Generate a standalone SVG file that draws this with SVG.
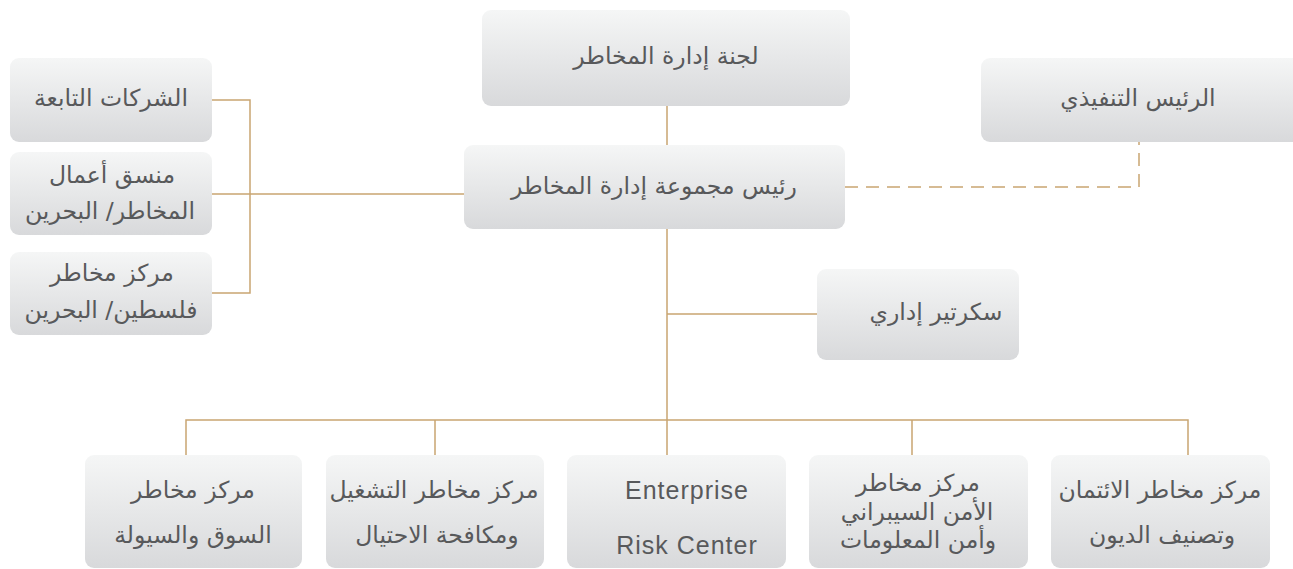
<svg xmlns="http://www.w3.org/2000/svg" width="1293" height="569" viewBox="0 0 1293 569">
<defs>
<linearGradient id="g" x1="0" y1="0" x2="0" y2="1">
<stop offset="0" stop-color="#f5f6f6"/>
<stop offset="1" stop-color="#d8d9db"/>
</linearGradient>
<style>
.box{fill:url(#g);}
.ar{font-family:"DejaVu Sans",sans-serif;font-size:23.5px;fill:#58595b;text-anchor:middle;}
.en{font-family:"Liberation Sans",Arial,sans-serif;font-size:25px;letter-spacing:1px;fill:#58595b;text-anchor:middle;}
.ln{stroke:#c9a571;stroke-width:1.5;fill:none;}
.dash{stroke-dasharray:13 8;}
</style>
</defs>
<rect width="1293" height="569" fill="#ffffff"/>
<g id="connectors">
<path class="ln" d="M667 106V145"/>
<path class="ln" d="M667 229V455"/>
<path class="ln" d="M667 314H817"/>
<path class="ln" d="M186 455V420H1188V455"/>
<path class="ln" d="M435 420V455"/>
<path class="ln" d="M912 420V455"/>
<path class="ln" d="M212 100H250V293H212"/>
<path class="ln" d="M212 194H464"/>
<path class="ln dash" d="M845 187H1139V142"/>
</g>
<g id="n-committee"><rect class="box" x="482" y="10" width="368" height="96" rx="9"/><text class="ar" x="666" y="64">لجنة إدارة المخاطر</text></g>
<g id="n-head"><rect class="box" x="464" y="145" width="381" height="84" rx="9"/><text class="ar" x="654" y="194">رئيس مجموعة إدارة المخاطر</text></g>
<g id="n-ceo"><rect class="box" x="981" y="58" width="320" height="84" rx="9"/><text class="ar" x="1138" y="106">الرئيس التنفيذي</text></g>
<g id="n-secretary"><rect class="box" x="817" y="269" width="202" height="91" rx="9"/><text class="ar" x="936" y="320">سكرتير إداري</text></g>
<g id="n-subs"><rect class="box" x="10" y="58" width="202" height="84" rx="9"/><text class="ar" x="111" y="106">الشركات التابعة</text></g>
<g id="n-coord"><rect class="box" x="10" y="152" width="202" height="83" rx="9"/><text class="ar" x="112" y="183">منسق أعمال</text><text class="ar" x="110" y="219">المخاطر/ البحرين</text></g>
<g id="n-palestine"><rect class="box" x="10" y="252" width="202" height="83" rx="9"/><text class="ar" x="112" y="281">مركز مخاطر</text><text class="ar" x="111" y="318">فلسطين/ البحرين</text></g>
<g id="n-market"><rect class="box" x="85" y="455" width="217" height="113" rx="9"/><text class="ar" x="193" y="498">مركز مخاطر</text><text class="ar" x="193" y="543">السوق والسيولة</text></g>
<g id="n-ops"><rect class="box" x="326" y="455" width="218" height="113" rx="9"/><text class="ar" x="434" y="498">مركز مخاطر التشغيل</text><text class="ar" x="437" y="543">ومكافحة الاحتيال</text></g>
<g id="n-erc"><rect class="box" x="567" y="455" width="219" height="113" rx="9"/><text class="en" x="687" y="499">Enterprise</text><text class="en" x="687" y="554">Risk Center</text></g>
<g id="n-cyber"><rect class="box" x="809" y="455" width="219" height="113" rx="9"/><text class="ar" x="918" y="491">مركز مخاطر</text><text class="ar" x="917" y="520">الأمن السيبراني</text><text class="ar" x="918" y="548">وأمن المعلومات</text></g>
<g id="n-credit"><rect class="box" x="1051" y="455" width="219" height="113" rx="9"/><text class="ar" x="1160" y="498">مركز مخاطر الائتمان</text><text class="ar" x="1162" y="543">وتصنيف الديون</text></g>
</svg>
